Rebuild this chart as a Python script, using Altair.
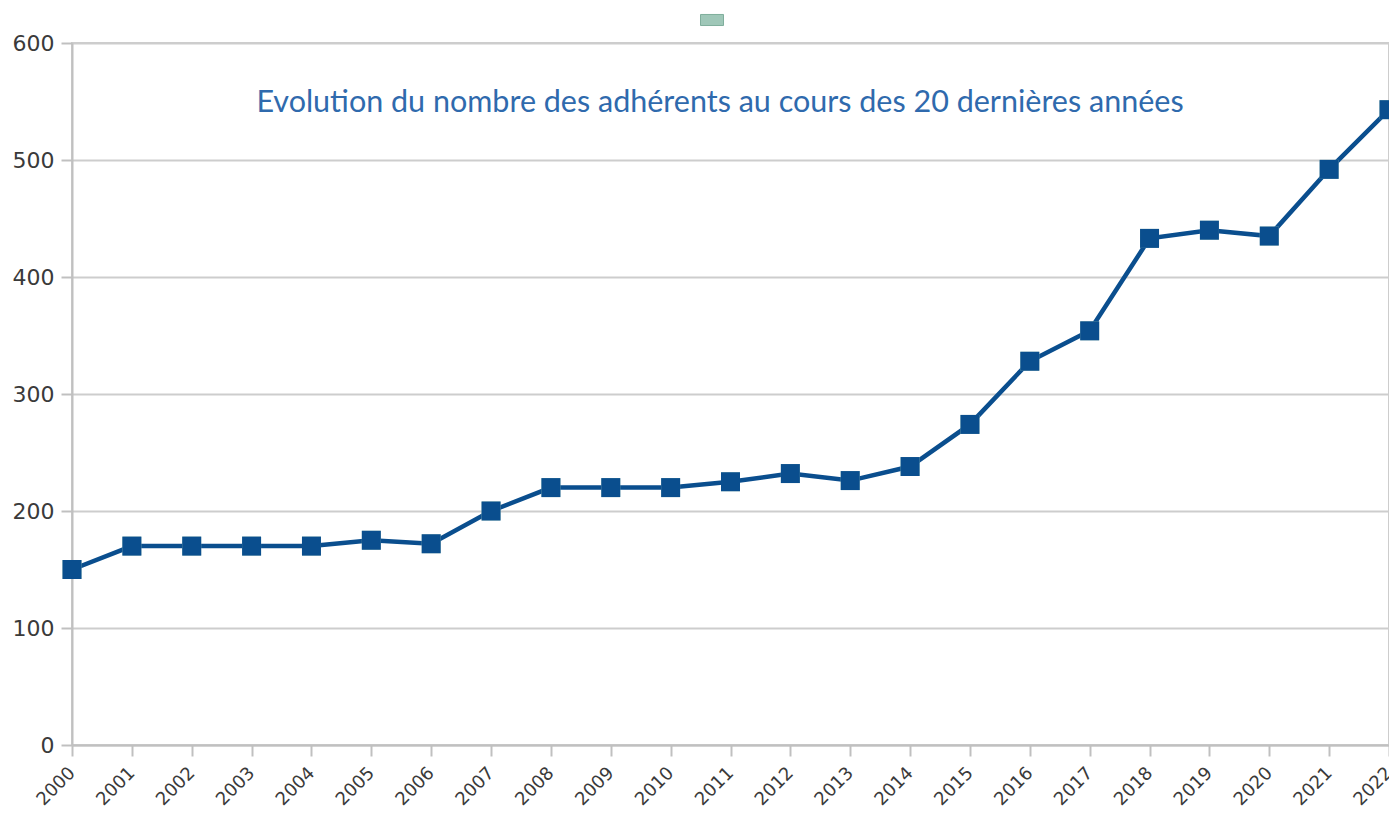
import altair as alt
import pandas as pd

years = [str(y) for y in range(2000, 2023)]
members = [150, 170, 170, 170, 170, 175, 172, 200, 220, 220, 220, 225, 232, 226, 238,
           274, 328, 354, 433, 440, 435, 492, 543]
title_text = "Evolution du nombre des adhérents au cours des 20 dernières années"

df = pd.DataFrame({"year": years, "members": members})

x = alt.X("year:O", title=None,
          scale=alt.Scale(type="point", padding=0),
          axis=alt.Axis(labelAngle=-45, labelFontSize=18, labelColor="#3a3a3a",
                        labelFont="DejaVu Sans", labelAlign="right", labelBaseline="middle",
                        labelPadding=14, tickColor="#c0c0c0", tickWidth=2, tickSize=11,
                        domainColor="#c0c0c0", domainWidth=2, grid=False))
y = alt.Y("members:Q", title=None,
          scale=alt.Scale(domain=[0, 600]),
          axis=alt.Axis(values=[0, 100, 200, 300, 400, 500, 600], labelFontSize=22,
                        labelColor="#3a3a3a", labelFont="DejaVu Sans", labelPadding=7,
                        tickColor="#c0c0c0", tickWidth=2, tickSize=11,
                        domainColor="#c0c0c0", domainWidth=2,
                        gridColor="#cdcdcd", gridWidth=2))

base = alt.Chart(df)
line = base.mark_line(color="#0a4e8e", strokeWidth=4.5).encode(x=x, y=y)
pts = base.mark_point(shape="square", filled=True, size=360, opacity=1).encode(
    x=x, y=y,
    fill=alt.Fill("series:N", scale=alt.Scale(range=["#9fc7b8"]),
                  legend=alt.Legend(orient="none", legendX=628, legendY=-35, title=None,
                                    labelFontSize=1, labelColor="white",
                                    symbolType="M-1,-0.48H1V0.48H-1Z", symbolSize=529,
                                    symbolStrokeColor="#7fae9c", symbolStrokeWidth=1)),
).transform_calculate(series="' '")
pts_blue = base.mark_square(size=360, color="#0a4e8e", opacity=1).encode(x=x, y=y)

title = alt.Chart(pd.DataFrame({"t": [title_text]})).mark_text(
    font="Lato", fontSize=30.5, color="#2f6aad", align="center", baseline="middle"
).encode(text="t:N", x=alt.value(648), y=alt.value(60))

chart = alt.layer(line, pts, pts_blue, title).properties(
    width=1317, height=702,
    autosize=alt.AutoSizeParams(type="none"),
    padding={"left": 64, "top": 35, "right": 0, "bottom": 63},
).configure_view(stroke="#cdcdcd", strokeWidth=2)

chart.save("out.html", embed_options={"renderer": "svg", "actions": False})
